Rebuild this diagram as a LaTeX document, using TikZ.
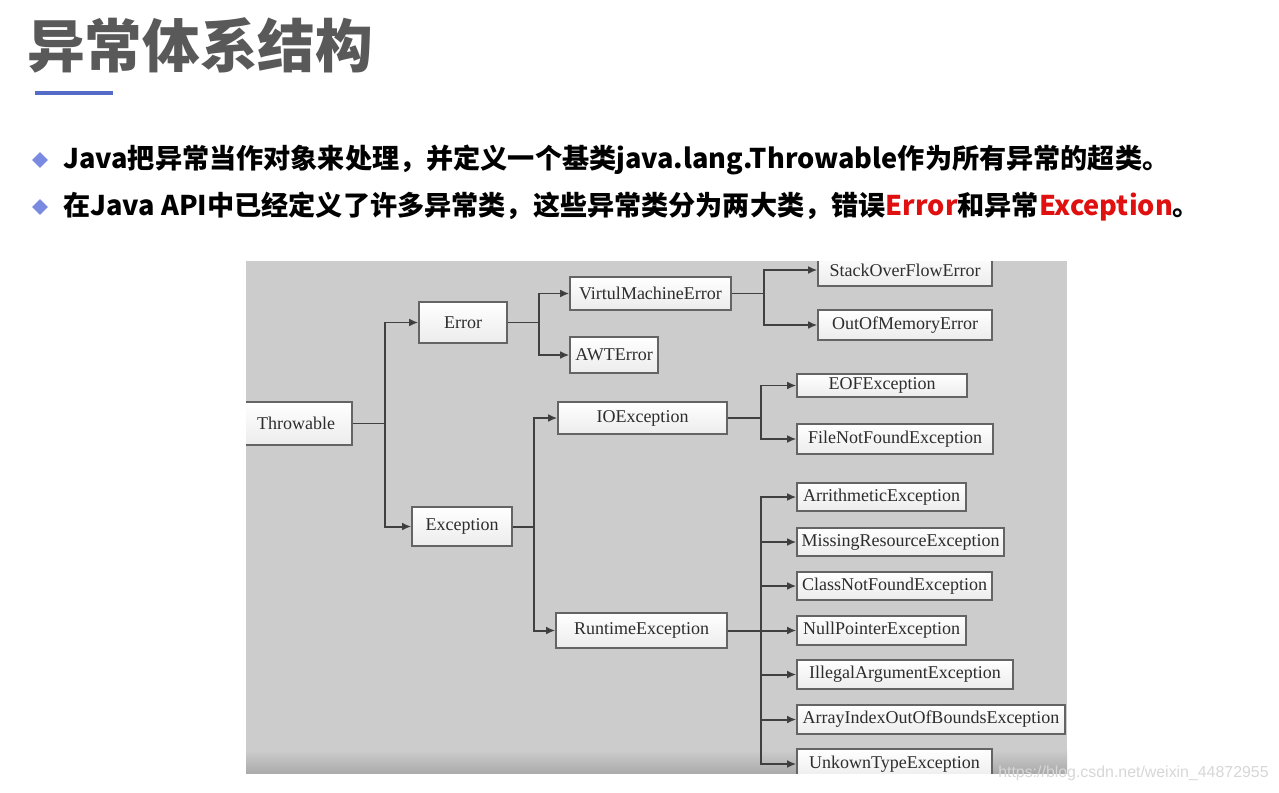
\documentclass[tikz,border=0pt]{standalone}
\usepackage{fontspec}
\setmainfont{Liberation Serif}
\newfontfamily\cjk{Noto Sans CJK SC}
\newfontfamily\wmfont{Liberation Sans}
\usepackage{xcolor}
\usetikzlibrary{arrows.meta, positioning, shapes.geometric}

\definecolor{panelgray}{RGB}{204,204,204}
\definecolor{boxline}{RGB}{100,100,100}
\definecolor{boxbottom}{RGB}{236,236,236}
\definecolor{linkgray}{RGB}{64,64,64}
\definecolor{textgray}{RGB}{45,45,45}
\definecolor{titlegray}{RGB}{89,89,89}
\definecolor{ulblue}{RGB}{84,108,200}
\definecolor{bullet}{RGB}{122,138,224}
\definecolor{hired}{RGB}{224,16,16}
\definecolor{wmgray}{RGB}{215,215,215}

\begin{document}
\begin{tikzpicture}[x=0.025cm, y=-0.025cm,
	box/.style 2 args={draw=boxline, line width=0.9pt, top color=white, bottom color=boxbottom,
		minimum width=#1*0.025cm, minimum height=#2*0.025cm, inner sep=0pt,
		text=textgray, font=\fontsize{12.8}{14}\selectfont},
	link/.style={draw=linkgray, line width=1.4pt},
	headed/.style={-{Latex[length=6.5pt,width=5.5pt]}},
	elbow/.style={headed, to path={-- ++(#1,0) |- (\tikztotarget.west)}},
	line/.style={anchor=west, inner sep=0pt, font=\cjk\bfseries\fontsize{19.3}{22}\selectfont}]
					\useasboundingbox[fill=white] (0,0) rectangle (1279,792);
					
					% heading
					\node[anchor=west, inner sep=0pt, text=titlegray, font=\cjk\bfseries\fontsize{41}{48}\selectfont] (title) at (27,45) {异常体系结构};
					\draw[draw=ulblue, line width=2.2pt] (35,93) -- (113,93);
					
					\node[diamond, fill=bullet, minimum size=16*0.025cm, inner sep=0pt] (dot1) at (40,160) {};
					\node[diamond, fill=bullet, minimum size=16*0.025cm, inner sep=0pt] (dot2) at (40,207) {};
					\node[line] (line1) at (63,160) {Java把异常当作对象来处理，并定义一个基类java.lang.Throwable作为所有异常的超类。};
					\node[line] (line2) at (63,207) {在Java API中已经定义了许多异常类，这些异常类分为两大类，错误\textcolor{hired}{Error}和异常\textcolor{hired}{Exception}。};
					
					\begin{scope}
					\clip (246,261) rectangle (1067,773);
					\fill[panelgray] (246,261) rectangle (1067,773);
					\shade[top color=panelgray, bottom color=black!33] (246,750) rectangle (1067,773);
					
					\node[box={112}{43}] (thr) at (296,423.5) {Throwable};
					\node[box={88}{41}] (err) at (463,322.5) {Error};
					\node[box={100}{39}] (exc) at (462,526.5) {Exception};
					
					\node[box={161}{33}] (vme) at (650.5,293.5) {VirtulMachineError};
					\node[box={88}{36}] (awt) at (614,355) {AWTError};
					\node[box={169}{32}] (io) at (642.5,418) {IOException};
					\node[box={171}{35}] (rte) at (641.5,630.5) {RuntimeException};
					
					\node[box={174}{32}] (sof) at (905,270) {StackOverFlowError};
					\node[box={174}{30}] (oom) at (905,325) {OutOfMemoryError};
					\node[box={170}{23}] (eof) at (882,385.5) {EOFException};
					\node[box={196}{30}] (fnf) at (895,439) {FileNotFoundException};
					
					\node[box={169}{28}] (ari) at (881.5,497) {ArrithmeticException};
					\node[box={207}{28}] (mis) at (900.5,542) {MissingResourceException};
					\node[box={195}{28}] (cnf) at (894.5,586) {ClassNotFoundException};
					\node[box={169}{29}] (npe) at (881.5,630.5) {NullPointerException};
					\node[box={216}{29}] (ill) at (905,674.5) {IllegalArgumentException};
					\node[box={268}{29}] (aio) at (931,719.5) {ArrayIndexOutOfBoundsException};
					\node[box={195}{30}] (unk) at (894.5,764) {UnkownTypeException};
					
					\path[link]
					(thr.east) edge[elbow=32] (err)
					edge[elbow=32] (exc)
					(err.east) edge[elbow=31] (vme)
					edge[elbow=31] (awt)
					(exc.east) edge[elbow=21] (io)
					edge[elbow=21] (rte)
					(vme.east) edge[elbow=32] (sof)
					edge[elbow=32] (oom)
					(io.east) edge[elbow=33] (eof)
					edge[elbow=33] (fnf)
					(rte.east) edge[elbow=33] (ari)
					edge[elbow=33] (mis)
					edge[elbow=33] (cnf)
					edge[headed] (npe)
					edge[elbow=33] (ill)
					edge[elbow=33] (aio)
					edge[elbow=33] (unk);
					\end{scope}
					
					\node[anchor=west, inner sep=0pt, text=wmgray, font=\wmfont\fontsize{11.3}{13}\selectfont] (mark) at (998,773) {https://blog.csdn.net/weixin\_44872955};
				\end{tikzpicture}
\end{document}
